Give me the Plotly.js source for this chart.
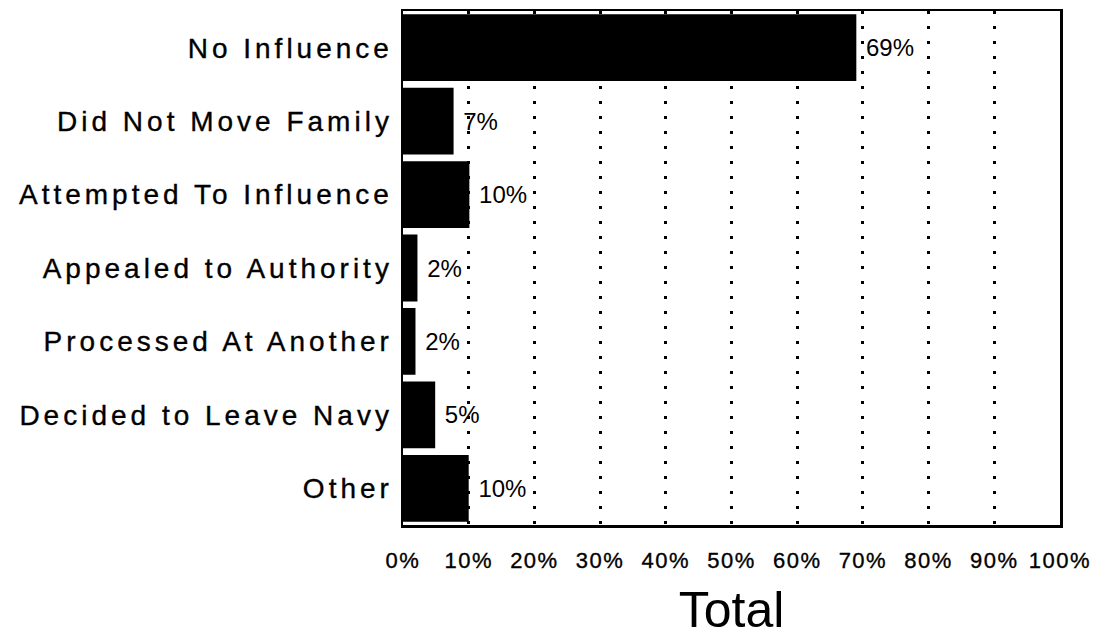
<!DOCTYPE html>
<html>
<head>
<meta charset="utf-8">
<script src="https://cdn.plot.ly/plotly-3.0.1.min.js"></script>
<style>
  html, body { margin: 0; padding: 0; background: #fff; }
  #chart { width: 1096px; height: 642px; }
  .ytick text { letter-spacing: 4px; stroke: #000; stroke-width: 0.35px; }
  .xtick text { letter-spacing: 1.5px; stroke: #000; stroke-width: 0.35px; }
  .textpoint text { stroke: #000; stroke-width: 0.2px; }
</style>
</head>
<body>
<div id="chart"></div>
<script>
// Categories (top to bottom)
const categories = [
  "No Influence",
  "Did Not Move Family",
  "Attempted To Influence",
  "Appealed to Authority",
  "Processed At Another",
  "Decided to Leave Navy",
  "Other"
];
// Bar lengths in percent
const values = [69.0, 7.7, 10.1, 2.2, 1.9, 4.9, 10.0];
// Printed value labels
const valueLabels = ["69%", "7%", "10%", "2%", "2%", "5%", "10%"];
// X tick values
const xTicks = [0, 10, 20, 30, 40, 50, 60, 70, 80, 90, 100];
const axisTitle = "Total";

const FONT = "Liberation Sans, Arial, Helvetica, sans-serif";

const trace = {
  type: "bar",
  orientation: "h",
  x: values,
  y: categories,
  text: valueLabels,
  texttemplate: "\u00a0%{text}",
  textposition: "outside",
  cliponaxis: false,
  textfont: { family: FONT, size: 24, color: "#000" },
  marker: { color: "#000", line: { width: 0 } },
  hoverinfo: "skip"
};

const layout = {
  width: 1096,
  height: 642,
  paper_bgcolor: "#fff",
  plot_bgcolor: "#fff",
  margin: { l: 403, r: 36, t: 11, b: 117 },
  showlegend: false,
  bargap: 0.09,
  font: { family: FONT, color: "#000" },
  xaxis: {
    range: [0, 100],
    tickvals: xTicks,
    ticktext: xTicks.map(v => v + "%"),
    tickfont: { family: FONT, size: 22, color: "#000" },
    ticks: "",
    ticklabelstandoff: 14,
    showgrid: true,
    gridcolor: "#000",
    gridwidth: 3,
    griddash: "3px,12px",
    zeroline: false,
    showline: true,
    linecolor: "#000",
    linewidth: 2.5,
    mirror: true,
    fixedrange: true,
    title: { text: axisTitle, font: { family: FONT, size: 50, color: "#000" }, standoff: 20 }
  },
  yaxis: {
    autorange: "reversed",
    tickfont: { family: FONT, size: 28, color: "#000" },
    ticks: "",
    ticklabelstandoff: 2,
    showgrid: false,
    zeroline: false,
    showline: true,
    linecolor: "#000",
    linewidth: 2.5,
    mirror: true,
    fixedrange: true
  }
};

Plotly.newPlot("chart", [trace], layout, { displayModeBar: false, staticPlot: true });
</script>
</body>
</html>
